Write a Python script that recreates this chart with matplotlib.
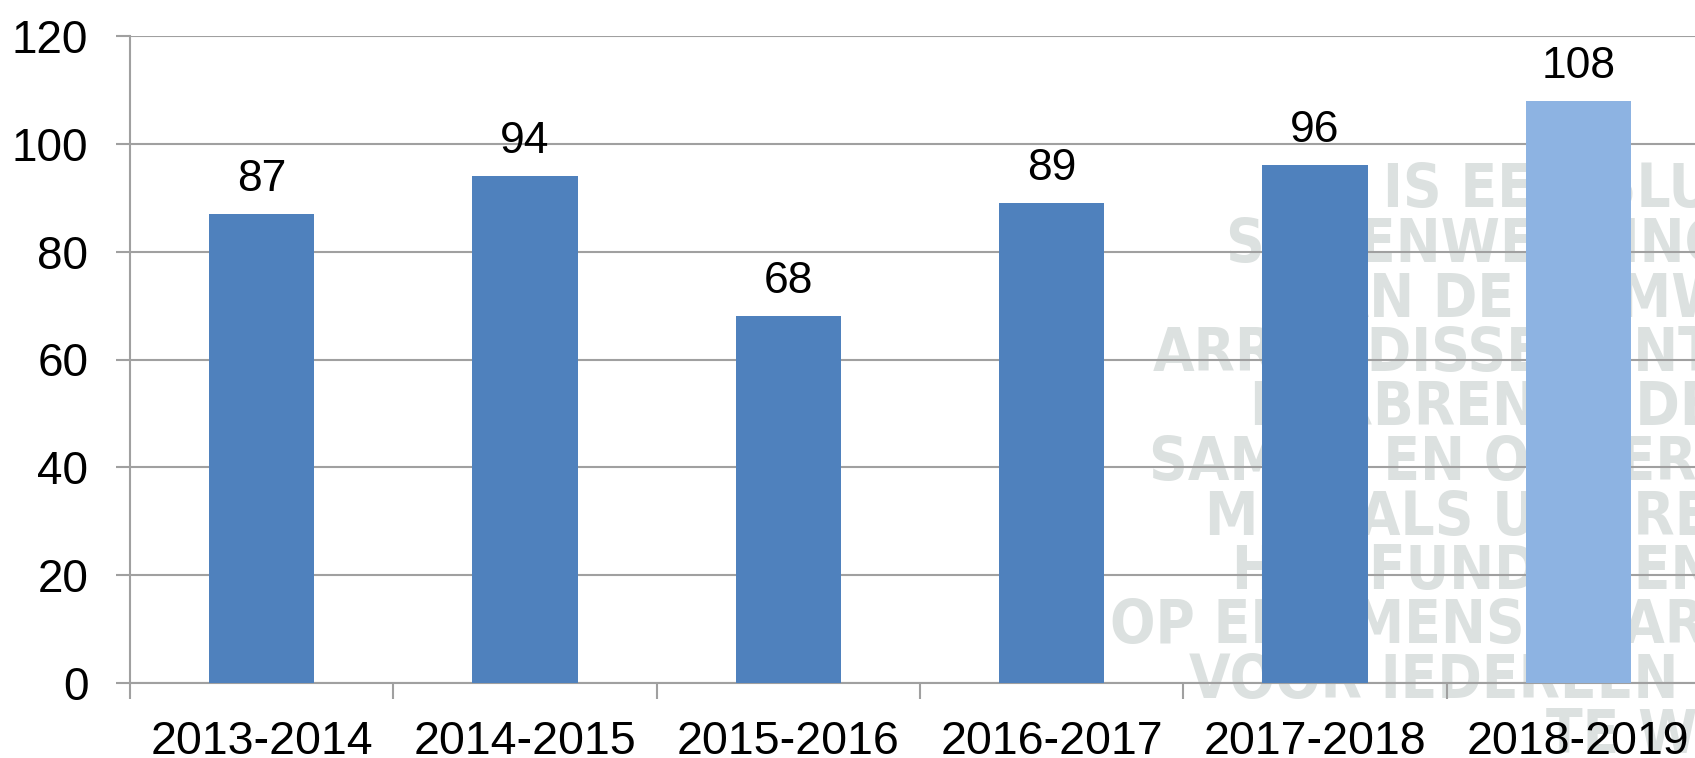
import matplotlib
matplotlib.use("Agg")
import matplotlib.pyplot as plt
from matplotlib import font_manager
import numpy as np

plt.rcParams['font.family'] = ['Liberation Sans', 'DejaVu Sans']

categories = ["2013-2014", "2014-2015", "2015-2016", "2016-2017", "2017-2018", "2018-2019"]
values = [87, 94, 68, 89, 96, 108]
bar_colors = ["#4f81bd", "#4f81bd", "#4f81bd", "#4f81bd", "#4f81bd", "#8db3e2"]
yticks = [0, 20, 40, 60, 80, 100, 120]

watermark_lines = ["IS EEN SLUITSTUK", "SAMENWERKING", "VAN DE OCMW'S", "ARRONDISSEMENT",
                   "HERBRENGT DEZE", "SAMEN EN ONDERSTEUNT", "MEN ALS UITBREIDING",
                   "HET FUNDAMENT", "OP EEN MENSWAARDIG", "VOOR IEDEREEN IN", "TE WAARBORGEN"]
watermark_x = [1383, 1225, 1290, 1153, 1250, 1149, 1205, 1232, 1110, 1189, 1546]

# condensed bold font for the watermark (DejaVu Sans Condensed Bold if present)
wm_prop = font_manager.FontProperties(family="Liberation Sans", weight="bold")
best = None
for f in font_manager.fontManager.ttflist:
    fn = f.fname.lower()
    if ("condensed" in fn or "narrow" in fn) and "bold" in fn and "oblique" not in fn and "italic" not in fn:
        best = f.fname
        break
if best:
    wm_prop = font_manager.FontProperties(fname=best)

W, H = 1695, 758
fig = plt.figure(figsize=(W / 100, H / 100), dpi=100, facecolor="white")
ax = fig.add_axes([130 / W, 1 - 683 / H, 1580 / W, (683 - 36) / H])
ax.patch.set_visible(False)

for i, (line, xp) in enumerate(zip(watermark_lines, watermark_x)):
    yc = 191 + 54.5 * i
    fig.text(xp / W, 1 - yc / H, line, ha="left", va="center", fontsize=43,
             fontproperties=wm_prop, color="#dce1e0", zorder=-5)

x = np.arange(len(categories))
ax.bar(x, values, width=0.4, color=bar_colors, zorder=3)
for xi, v in zip(x, values):
    ax.text(xi, v + 2.6, str(v), ha="center", va="bottom", fontsize=32, color="black", zorder=4)

ax.set_xlim(-0.5, len(categories) - 0.5)
ax.set_ylim(0, 120)
ax.set_yticks(yticks)
ax.set_yticklabels([str(t) for t in yticks])
ax.yaxis.grid(True, color="#a0a0a0", linewidth=1.5, zorder=1)
ax.set_axisbelow(True)

ax.set_xticks(x)
ax.set_xticklabels(categories)
ax.set_xticks(np.arange(-0.5, len(categories), 1.0), minor=True)
ax.tick_params(axis="x", which="major", length=0, pad=27, labelsize=33.5)
ax.tick_params(axis="x", which="minor", length=11.5, width=1.5, color="#a0a0a0")
ax.tick_params(axis="y", which="major", length=10, width=1.5, color="#a0a0a0", pad=20, labelsize=33)

for s in ["top", "right"]:
    ax.spines[s].set_visible(False)
for s in ["left", "bottom"]:
    ax.spines[s].set_color("#a0a0a0")
    ax.spines[s].set_linewidth(1.5)

fig.savefig("out.png", dpi=100, facecolor="white")
